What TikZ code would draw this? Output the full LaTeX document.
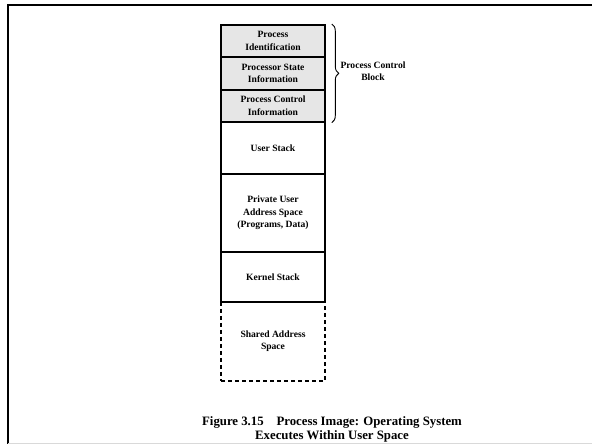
\documentclass[tikz,border=0pt]{standalone}
\usepackage{fontspec}
\setmainfont{Liberation Serif}
\usetikzlibrary{decorations.pathreplacing}
\definecolor{pcbgray}{HTML}{E6E6E6}
\tikzset{
  seg/.style={draw=black, line width=1.6pt, minimum width=104pt, inner sep=0pt, align=center,
    font=\fontsize{9.6}{12.5}\selectfont\bfseries, anchor=north},
  pcb/.style={seg, fill=pcbgray},
  shared/.style={seg, dashed, dash pattern=on 4pt off 3pt},
  frameline/.style={line width=2.4pt, black},
  captionstyle/.style={font=\fontsize{12.8}{13.5}\selectfont\bfseries, align=center, inner sep=1pt}
}
\begin{document}
\begin{tikzpicture}[x=1pt,y=-1pt]
\useasboundingbox (0,0) rectangle (592,444);
\fill[white] (0,0) rectangle (592,444);
% frame
\coordinate (ftl) at (8,5);
\coordinate (ftr) at (592,5);
\coordinate (fbl) at (8,444);
\draw[frameline] (ftr) -- (ftl) -- (fbl);
\coordinate (bl) at (8,443);
\coordinate (br) at (592,443);
\draw[line width=1pt, black!15] (bl) -- (br);
% stack
\node[pcb, minimum height=32pt] (pi) at (273,24) {Process\\Identification};
\node[pcb, minimum height=33pt] (psi) at (273,56) {Processor State\\Information};
\node[pcb, minimum height=32pt] (pci) at (273,89) {Process Control\\Information};
\node[seg, minimum height=52pt] (us) at (273,121) {User Stack};
\node[seg, minimum height=78pt] (pu) at (273,173) {Private User\\Address Space\\(Programs, Data)};
\node[seg, minimum height=50pt] (ks) at (273,251) {Kernel Stack};
\node[shared, minimum height=79pt] (sa) at (273,301) {Shared Address\\Space};
% brace
\coordinate (bt) at ([xshift=6pt]pi.north east);
\coordinate (bb) at ([xshift=6pt]pci.south east);
\draw[line width=0.9pt, decorate, decoration={brace, amplitude=7pt}] (bt) -- (bb);
\node[font=\fontsize{9.6}{12.5}\selectfont\bfseries, align=center] (pcblabel) at (373,71) {Process Control\\Block};
% caption
\node[captionstyle, anchor=south] (cap) at (332,443) {Figure 3.15\hspace{1em}Process Image: Operating System\\Executes Within User Space};
\end{tikzpicture}
\end{document}
